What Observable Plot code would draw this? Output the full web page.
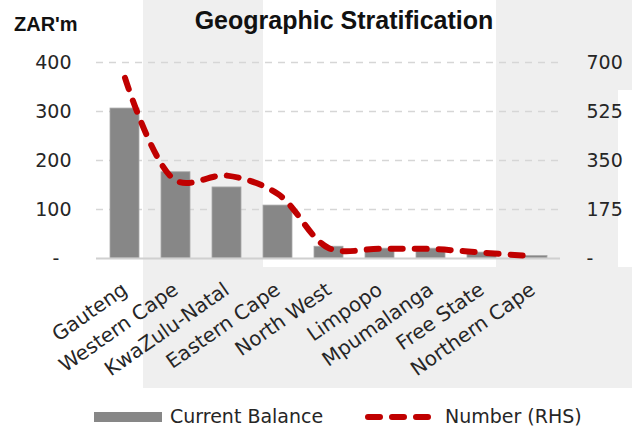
<!DOCTYPE html>
<html>
<head>
<meta charset="utf-8">
<script src="https://cdn.jsdelivr.net/npm/d3@7"></script>
<script src="https://cdn.jsdelivr.net/npm/@observablehq/plot@0.6"></script>
<style>
  html, body { margin: 0; padding: 0; background: #fff; }
  #wrap { position: relative; width: 632px; height: 430px; overflow: hidden; font-family: "DejaVu Sans", sans-serif; color: #262626; }
  .bg { position: absolute; background: #efefef; }
  #title { position: absolute; left: 0; width: 688px; top: 6px; text-align: center; font-family: "Liberation Sans", Arial, sans-serif; font-weight: bold; font-size: 25px; color: #111; }
  #unit { position: absolute; left: 14px; top: 13px; font-family: "Liberation Sans", Arial, sans-serif; font-weight: bold; font-size: 20px; color: #111; }
  #chart { position: absolute; left: 0; top: 0; }
  #legend { position: absolute; left: 0; top: 403px; width: 632px; height: 28px; }
  .lg { position: absolute; font-size: 19px; top: 2px; }
</style>
</head>
<body>
<div id="wrap">
  <div class="bg" style="left:143px; top:0; width:120px; height:388px;"></div>
  <div class="bg" style="left:143px; top:267px; width:489px; height:121px;"></div>
  <div class="bg" style="left:496px; top:0; width:122px; height:267px;"></div>
  <div class="bg" style="left:618px; top:0; width:14px; height:90px;"></div>
  <div id="chart"></div>
  <div id="title">Geographic Stratification</div>
  <div id="unit">ZAR'm</div>
  <div id="legend">
    <div style="position:absolute; left:94px; top:9px; width:68px; height:10px; background:#878787;"></div>
    <div class="lg" style="left:170px;">Current Balance</div>
    <svg style="position:absolute; left:360px; top:4px;" width="80" height="20">
      <line x1="8" y1="10" x2="72" y2="10" stroke="#c00000" stroke-width="6" stroke-linecap="round" stroke-dasharray="12,12"></line>
    </svg>
    <div class="lg" style="left:445px;">Number (RHS)</div>
  </div>
</div>
<script>
const categories = ["Gauteng", "Western Cape", "KwaZulu-Natal", "Eastern Cape", "North West", "Limpopo", "Mpumalanga", "Free State", "Northern Cape"];
const balance = [306, 176, 145, 108, 24, 20, 20, 12, 5];
const number = [645, 278, 296, 230, 37, 35, 34, 21, 8];
const leftTicks = [0, 100, 200, 300, 400];
const rightTicks = [0, 175, 350, 525, 700];

const rows = categories.map((c, i) => ({region: c, balance: balance[i], number: number[i]}));
const ratio = leftTicks[leftTicks.length - 1] / rightTicks[rightTicks.length - 1];

const chart = Plot.plot({
  width: 632,
  height: 395,
  marginLeft: 96,
  marginRight: 72,
  marginTop: 62,
  marginBottom: 137,
  style: {background: "transparent", fontFamily: "DejaVu Sans, sans-serif", fontSize: "19px", color: "#262626"},
  x: {domain: categories, paddingInner: 0.44, paddingOuter: 0.22},
  y: {domain: [0, 400]},
  marks: [
    Plot.gridY(leftTicks.filter(d => d > 0), {stroke: "#d6d6d6", strokeOpacity: 1, strokeWidth: 1.5, strokeDasharray: "7,6"}),
    Plot.barY(rows, {x: "region", y: "balance", fill: "#878787", stroke: "#a8a8a8", strokeWidth: 0.8}),
    Plot.ruleY([0], {stroke: "#d0d0d0", strokeWidth: 2}),
    Plot.line(rows, {x: "region", y: d => d.number * ratio, stroke: "#c00000", strokeWidth: 6, strokeDasharray: "12,12", strokeLinecap: "round", curve: "catmull-rom"}),
    Plot.axisY({anchor: "left", ticks: leftTicks, tickSize: 0, tickPadding: 25, label: null, tickFormat: d => d === 0 ? "-\u00a0\u00a0" : String(d)}),
    Plot.axisY({anchor: "right", ticks: leftTicks, tickSize: 0, tickPadding: 26, label: null, tickFormat: d => { const v = Math.round(d / ratio); return v === 0 ? "-" : String(v); }}),
    Plot.axisX({tickRotate: -35, tickSize: 0, tickPadding: 29, fontSize: 20, label: null})
  ]
});
document.getElementById("chart").appendChild(chart);
</script>
</body>
</html>
